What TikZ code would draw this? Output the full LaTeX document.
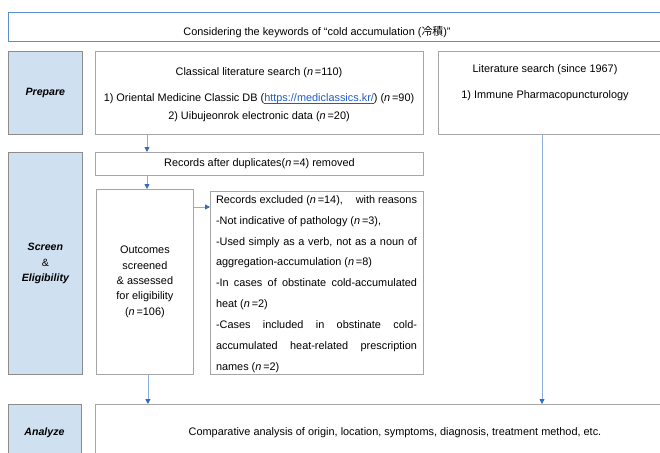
\documentclass[tikz,border=0pt]{standalone}
\usepackage{fontspec}
\setmainfont{Liberation Sans}
\newfontfamily\cjk{Noto Sans CJK KR}
\usetikzlibrary{arrows.meta,calc}
\definecolor{lblfill}{HTML}{CFE0F0}
\definecolor{lbldraw}{HTML}{8C8C8C}
\definecolor{boxdraw}{HTML}{A6A6A6}
\definecolor{topblue}{HTML}{5B8FD0}
\definecolor{lineblue}{HTML}{8FAEE0}
\definecolor{tipblue}{HTML}{2F6CC0}
\definecolor{linkblue}{HTML}{1F5BC4}
\tikzset{
  lbl/.style={draw=lbldraw, fill=lblfill, line width=0.8pt, inner sep=0pt, align=center, font=\fontsize{10.6}{15.5}\selectfont\bfseries\itshape},
  box/.style={draw=boxdraw, fill=white, line width=0.8pt, inner sep=0pt, align=center},
  topbox/.style={draw=topblue, fill=white, line width=0.9pt, inner sep=0pt},
  arr/.style={draw=lineblue, line width=0.8pt, -{Triangle[length=5pt,width=5pt,color=tipblue]}},
}
\begin{document}
\begin{tikzpicture}[x=1pt,y=-1pt,font=\fontsize{10.9}{13.1}\selectfont]
\useasboundingbox (0,0) rectangle (660,452);
\clip (0,0) rectangle (660,452);
% top box
\node[topbox, minimum width=664, minimum height=29, anchor=north west] (top) at (8,12) {};
\node (toptxt) at (317,32) {Considering the keywords of “cold accumulation ({\cjk 冷積})”};
% left labels
\node[lbl, minimum width=74, minimum height=83, anchor=north west] (prep) at (8,51) {Prepare};
\node[lbl, minimum width=74, minimum height=222, anchor=north west] (scr) at (8,152) {Screen\\{\normalfont\&}\\Eligibility};
\node[lbl, minimum width=73, minimum height=60, anchor=north west] (ana) at (8,404) {};
\node[font=\fontsize{10.6}{13}\selectfont\bfseries\itshape] (anatxt) at (44.5,433) {Analyze};
% prepare row
\node[box, minimum width=328, minimum height=83, anchor=north west] (cls) at (95,51) {};
\node[align=center] (clstxt) at (259,95) {Classical literature search (\textit{n}\,=110)\\[13pt]
1) Oriental Medicine Classic DB (\textcolor{linkblue}{\underline{\smash{https://mediclassics.kr/}}}) (\textit{n}\,=90)\\[5pt]
2) Uibujeonrok electronic data (\textit{n}\,=20)};
\node[box, minimum width=240, minimum height=83, anchor=north west] (lit) at (438,51) {};
\node[align=center] (littxt) at (545,83) {Literature search (since 1967)\\[13pt]1) Immune Pharmacopuncturology};
% screen rows
\node[box, minimum width=328, minimum height=23, anchor=north west] (rec) at (95,152) {Records after duplicates(\textit{n}\,=4) removed};
\node[box, minimum width=97, minimum height=185, anchor=north west, font=\fontsize{10.9}{15.3}\selectfont] (outc) at (96,189)
  {Outcomes\\screened\\\& assessed\\for eligibility\\(\textit{n}\,=106)};
\node[box, minimum width=213, minimum height=183, anchor=north west] (excl) at (210,191) {};
\node[text width=201pt, align=justify, inner sep=0pt, font=\fontsize{10.9}{20.9}\selectfont] (excltxt) at (316.5,284)
  {\tolerance=10000\hbadness=10000 Records excluded (\textit{n}\,=14),\hfill with reasons\linebreak
  -Not indicative of pathology (\textit{n}\,=3),\newline
  -Used simply as a verb, not as a noun of\linebreak
  aggregation-accumulation (\textit{n}\,=8)\newline
  -In cases of obstinate cold-accumulated\linebreak
  heat (\textit{n}\,=2)\newline
  -Cases included in obstinate cold-\linebreak
  accumulated heat-related prescription\linebreak
  names (\textit{n}\,=2)};
% analyze row
\node[box, minimum width=580, minimum height=60, anchor=north west] (cmp) at (95,404) {};
\node (cmptxt) at (395,433) {Comparative analysis of origin, location, symptoms, diagnosis, treatment method, etc.};
% connectors
\coordinate (a1) at ($(cls.south west)+(52,0)$);
\draw[arr] (a1) -- (a1 |- rec.north);
\coordinate (a2) at ($(rec.south west)+(52,0)$);
\draw[arr] (a2) -- (a2 |- outc.north);
\coordinate (a3) at ($(outc.north east)+(0,18)$);
\draw[arr] (a3) -- (a3 -| excl.west);
\coordinate (a4) at ($(outc.south)+(3,0)$);
\draw[arr] (a4) -- (a4 |- cmp.north);
\coordinate (a5) at ($(lit.south west)+(104,0)$);
\draw[arr] (a5) -- (a5 |- cmp.north);
\end{tikzpicture}
\end{document}
